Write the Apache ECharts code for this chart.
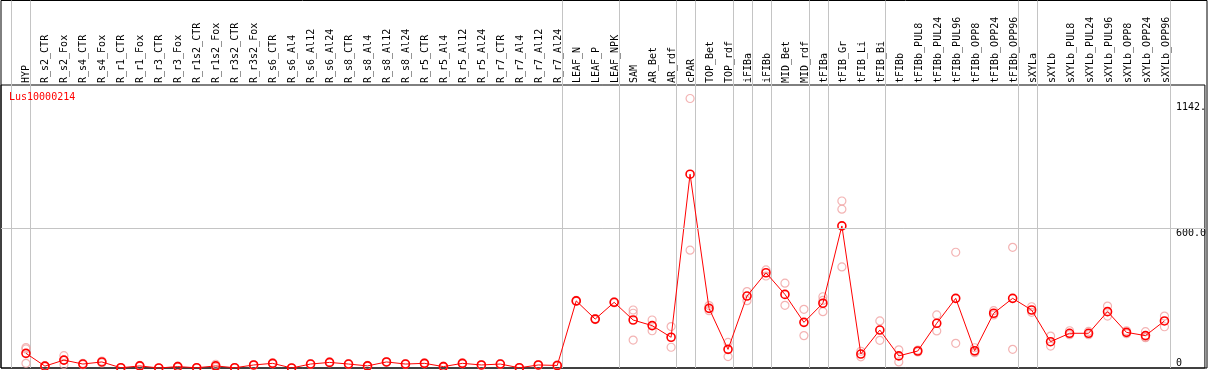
<!DOCTYPE html>
<html lang="en">
<head>
<meta charset="UTF-8">
<title>Lus10000214</title>
<script src="https://cdn.jsdelivr.net/npm/echarts@6/dist/echarts.min.js"></script>
<style>
    html, body { margin: 0; padding: 0; background: #fff; }
    #chart { width: 1209px; height: 370px; }
</style>
</head>
<body>
<div id="chart"></div>
<script>
var categories = ['HYP', 'R_s2_CTR', 'R_s2_Fox', 'R_s4_CTR', 'R_s4_Fox', 'R_r1_CTR', 'R_r1_Fox',
    'R_r3_CTR', 'R_r3_Fox', 'R_r1s2_CTR', 'R_r1s2_Fox', 'R_r3s2_CTR', 'R_r3s2_Fox', 'R_s6_CTR',
    'R_s6_Al4', 'R_s6_Al12', 'R_s6_Al24', 'R_s8_CTR', 'R_s8_Al4', 'R_s8_Al12', 'R_s8_Al24',
    'R_r5_CTR', 'R_r5_Al4', 'R_r5_Al12', 'R_r5_Al24', 'R_r7_CTR', 'R_r7_Al4', 'R_r7_Al12', 'R_r7_Al24',
    'LEAF_N', 'LEAF_P', 'LEAF_NPK', 'SAM', 'AR_Bet', 'AR_rdf', 'cPAR', 'TOP_Bet', 'TOP_rdf',
    'iFIBa', 'iFIBb', 'MID_Bet', 'MID_rdf', 'tFIBa', 'tFIB_Gr', 'tFIB_Li', 'tFIB_Bi', 'tFIBb',
    'tFIBb_PUL8', 'tFIBb_PUL24', 'tFIBb_PUL96', 'tFIBb_OPP8', 'tFIBb_OPP24', 'tFIBb_OPP96',
    'sXYLa', 'sXYLb', 'sXYLb_PUL8', 'sXYLb_PUL24', 'sXYLb_PUL96', 'sXYLb_OPP8', 'sXYLb_OPP24', 'sXYLb_OPP96'];

// mean expression per sample
var meanValues = [63, 8, 34, 17, 26, 1, 9, 0, 6, 1, 9, 1, 13, 20, 0, 17, 24, 17, 9, 26, 17,
    20, 6, 20, 13, 17, 1, 13, 11,
    288, 210, 282, 206, 182, 132, 832, 256, 80, 309, 409, 316, 196, 278, 610, 60, 163, 52,
    73, 192, 299, 74, 235, 299, 249, 113, 149, 149, 242, 153, 139, 202];

// individual replicates per sample
var replicates = [
    [88, 82, 20], [10, 6], [53, 34, 15], [20, 14], [30, 22], [2, 0], [11, 7], [0, 0], [8, 4],
    [2, 0], [16, 3], [2, 0], [15, 11], [22, 18], [0, 0], [19, 15], [26, 22], [19, 15], [11, 7],
    [28, 24], [19, 15], [22, 18], [8, 4], [22, 18], [15, 11], [19, 15], [2, 0], [15, 11], [13, 9],
    [290, 286], [212, 208], [284, 280], [249, 235, 120], [206, 160], [178, 89], [1157, 506],
    [268, 246], [110, 49], [328, 289], [421, 395], [364, 269], [252, 139], [306, 290, 242],
    [717, 682, 434], [72, 48], [202, 119], [78, 26], [77, 69], [228, 159], [497, 106],
    [87, 70, 66], [246, 228], [518, 80], [263, 239], [137, 94], [160, 143], [157, 143],
    [266, 223], [160, 147], [156, 132, 130], [223, 177]
];

// index of the last sample of each tissue group
var groupEnds = [-1, 0, 28, 31, 34, 35, 37, 38, 39, 41, 42, 45, 52, 53, 60];

var yTop = 1142;
var yMid = 600;

var step = 19.008, firstX = 26;
var frameL = 1, frameR = 1207;
var xMin = (frameL - firstX) / step;
var xMax = (frameR - firstX) / step;
var yMax = 1215;
var font = 'DejaVu Sans Mono';

var repPoints = [];
replicates.forEach(function (r, i) {
    r.forEach(function (v) { repPoints.push([i, v]); });
});

function yLabelAxis(interval, fmt, vAlign) {
    return {
        gridIndex: 1, type: 'value', min: 0, max: yMax, interval: interval, position: 'right',
        axisLine: { show: false }, axisTick: { show: false }, splitLine: { show: false },
        axisLabel: {
            inside: true, align: 'left', margin: 29, verticalAlign: vAlign,
            fontFamily: font, fontSize: 10, color: '#000', formatter: fmt
        }
    };
}

var chart = echarts.init(document.getElementById('chart'));
chart.setOption({
    animation: false,
    title: {
        text: 'Lus10000214', left: 9, top: 92, padding: 0,
        textStyle: { color: '#ff0000', fontFamily: font, fontSize: 10, fontWeight: 'normal' }
    },
    grid: [
        { left: frameL, right: 1209 - frameR, top: 0.5, bottom: 2, show: true, borderColor: '#000', borderWidth: 1 },
        { left: frameL, right: 1209 - frameR, top: 85, bottom: 2, show: true, borderColor: '#000', borderWidth: 1 },
        { left: firstX - step / 2, width: step * categories.length, top: 85, bottom: 2 }
    ],
    xAxis: [
        { gridIndex: 0, type: 'value', min: xMin, max: xMax, show: false },
        { gridIndex: 1, type: 'value', min: xMin, max: xMax, show: false },
        {
            gridIndex: 2, type: 'category', data: categories, position: 'top',
            axisLine: { show: false }, axisTick: { show: false },
            axisLabel: { interval: 0, rotate: 90, margin: 2, fontFamily: font, fontSize: 10, color: '#000' }
        }
    ],
    yAxis: [
        { gridIndex: 0, type: 'value', min: 0, max: 1, show: false },
        yLabelAxis(yMid, function (v) { return v === yMid ? yMid.toFixed(1) : ''; }, 'top'),
        yLabelAxis(yTop, function (v) { return v === yTop ? yTop + '.' : ''; }, 'top'),
        yLabelAxis(yMax, function (v) { return v === 0 ? '0' : ''; }, 'bottom'),
        { gridIndex: 2, type: 'value', show: false }
    ],
    series: [
        {
            type: 'custom', xAxisIndex: 0, yAxisIndex: 0, silent: true, z: 1,
            data: groupEnds.map(function (i) { return [i + 0.2, 0]; }),
            renderItem: function (params, api) {
                var x = Math.round(api.coord([api.value(0), 0])[0]) + 0.5;
                var cs = params.coordSys;
                return {
                    type: 'line',
                    shape: { x1: x, y1: cs.y, x2: x, y2: cs.y + cs.height },
                    style: { stroke: '#c4c4c4', lineWidth: 1 }
                };
            }
        },
        {
            type: 'scatter', xAxisIndex: 1, yAxisIndex: 1, z: 2, silent: true,
            data: repPoints, symbol: 'circle', symbolSize: 8,
            itemStyle: { color: 'rgba(0,0,0,0)', borderColor: '#f0a0a0', borderWidth: 1.2 },
            markLine: {
                silent: true, symbol: ['none', 'none'], label: { show: false },
                lineStyle: { color: '#c4c4c4', type: 'solid', width: 1 },
                data: [{ yAxis: yMid }]
            }
        },
        {
            type: 'line', xAxisIndex: 1, yAxisIndex: 1, z: 3, silent: true,
            data: meanValues.map(function (v, i) { return [i, v]; }),
            symbol: 'circle', symbolSize: 8, showAllSymbol: true,
            lineStyle: { color: '#ff0000', width: 1 },
            itemStyle: { color: 'rgba(0,0,0,0)', borderColor: '#ff0000', borderWidth: 1.6 }
        }
    ]
});
</script>
</body>
</html>
